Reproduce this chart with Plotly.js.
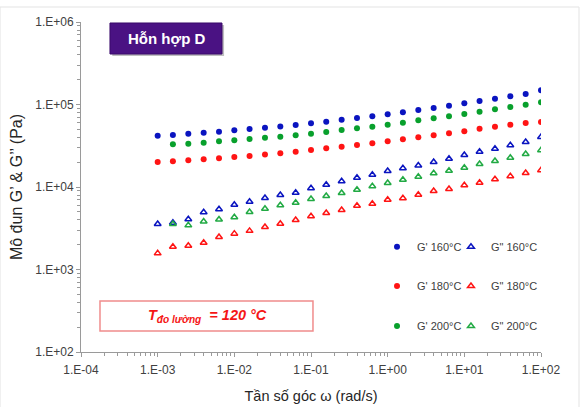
<!DOCTYPE html>
<html><head><meta charset="utf-8">
<script src="https://cdn.plot.ly/plotly-3.0.1.min.js"></script>
<style>html,body{margin:0;padding:0;background:#fff;}#chart{width:580px;height:407px;}</style>
</head><body><div id="chart"></div>
<script>
// angular frequency (rad/s)
const omega = [0.001, 0.00158, 0.00251, 0.00398, 0.00631, 0.01, 0.0158, 0.0251, 0.0398, 0.0631,
               0.1, 0.158, 0.251, 0.398, 0.631, 1, 1.58, 2.51, 3.98, 6.31,
               10, 15.8, 25.1, 39.8, 63.1, 100];
// storage modulus G' (Pa)
const gp160 = [41900, 42700, 44300, 45500, 46800, 48700, 50500, 52400, 54100, 56400,
               59200, 61900, 65500, 68600, 71900, 76000, 80400, 85800, 90700, 96600,
               103500, 110300, 117500, 125600, 134000, 148600];
const gp180 = [20100, 20500, 21100, 21700, 22300, 23100, 23800, 24700, 25600, 26800,
               28100, 29400, 30800, 32300, 33900, 35800, 37900, 40000, 42400, 44800,
               47300, 50900, 53800, 56900, 59700, 61400];
const gp200 = [null, 32950, 33500, 34450, 35800, 36800, 38200, 39600, 40700, 42500,
               44300, 46400, 49100, 51500, 53800, 56900, 60200, 64300, 68000, 71900,
               76700, 81800, 87500, 93300, 99500, 106300];
// loss modulus G'' (Pa)
const gpp160 = [3560, 3680, 4060, 4950, 5370, 6080, 6620, 7360, 8000, 8530,
                9640, 10660, 11720, 12970, 14090, 15620, 16850, 18230, 20100, 22030,
                24430, 26790, 29110, 32000, 35100, 40400];
const gpp180 = [1570, 1890, 1940, 2110, 2480, 2720, 2940, 3270, 3580, 3980,
                4410, 4840, 5260, 5930, 6280, 7010, 7290, 8070, 8950, 9460,
                10490, 11280, 12390, 13490, 14790, 15950];
const gpp200 = [null, 3560, 3430, 3820, 4040, 4290, 4980, 5440, 6020, 6450,
                7160, 7780, 8460, 9270, 10190, 11170, 12250, 13330, 14650, 15770,
                17130, 19000, 20660, 22650, 25120, 27860];

const xTickVals = [1e-4, 1e-3, 1e-2, 1e-1, 1, 10, 100];
const xTickText = ['1.E-04', '1.E-03', '1.E-02', '1.E-01', '1.E+00', '1.E+01', '1.E+02'];
const yTickVals = [1e2, 1e3, 1e4, 1e5, 1e6];
const yTickText = ['1.E+02', '1.E+03', '1.E+04', '1.E+05', '1.E+06'];

const names = ["G' 160°C", 'G" 160°C', "G' 180°C", 'G" 180°C', "G' 200°C", 'G" 200°C'];

const BLUE = '#0a14c0', RED = '#ff1414', GREEN = '#08a02c';
const GREEN_T = '#22aa44';

function circ(y, name, color, leg) {
  return {x: omega, y: y, name: name, type: 'scatter', mode: 'markers', legend: leg,
          marker: {symbol: 'circle', size: 6, color: color}};
}
function tri(y, name, color, leg) {
  return {x: omega, y: y, name: name, type: 'scatter', mode: 'markers', legend: leg,
          marker: {symbol: 'triangle-up-open', size: 6, color: color, line: {width: 1.5, color: color}}};
}

const data = [
  circ(gp160, names[0], BLUE, 'legend'),
  tri(gpp160, names[1], BLUE, 'legend2'),
  circ(gp180, names[2], RED, 'legend3'),
  tri(gpp180, names[3], RED, 'legend4'),
  circ(gp200, names[4], GREEN, 'legend5'),
  tri(gpp200, names[5], GREEN_T, 'legend6')
];

const FONT = 'Liberation Sans, Arial, sans-serif';
function leg(x, y) {
  return {orientation: 'v', xanchor: 'left', yanchor: 'middle', x: x, y: y,
    bgcolor: 'rgba(0,0,0,0)', font: {family: FONT, size: 11, color: '#404040'}};
}
const COL1 = 0.6435, COL2 = 0.8043;
const ROW1 = 0.319, ROW2 = 0.200, ROW3 = 0.079;

const axBase = {type: 'log', showgrid: false, zeroline: false, showline: true,
  linecolor: '#9a9a9a', linewidth: 1, ticks: 'outside', ticklen: 4, tickcolor: '#9a9a9a',
  tickmode: 'array', tickfont: {family: FONT, size: 12, color: '#404040'},
  minor: {ticks: 'outside', ticklen: 3, tickcolor: '#9a9a9a', dtick: 'D1', showgrid: false}};

const layout = {
  width: 580, height: 407,
  margin: {l: 81, r: 39, t: 22, b: 55},
  paper_bgcolor: '#ffffff', plot_bgcolor: '#ffffff',
  showlegend: true,
  xaxis: Object.assign({}, axBase, {range: [-4, 2], tickvals: xTickVals, ticktext: xTickText,
    ticklabelstandoff: 3,
    title: {text: 'Tần số góc ω (rad/s)', font: {family: FONT, size: 14.5, color: '#262626'}, standoff: 14}}),
  yaxis: Object.assign({}, axBase, {range: [2, 6], tickvals: yTickVals, ticktext: yTickText,
    title: {text: 'Mô đun G’ & G’’ (Pa)', font: {family: FONT, size: 16, color: '#262626'}, standoff: 8}}),
  legend: leg(COL1, ROW1), legend2: leg(COL2, ROW1),
  legend3: leg(COL1, ROW2), legend4: leg(COL2, ROW2),
  legend5: leg(COL1, ROW3), legend6: leg(COL2, ROW3),
  shapes: [
    {type: 'rect', xref: 'paper', yref: 'paper', x0: -0.176, x1: 1.0826, y0: -0.2, y1: 1.0455,
     line: {color: '#e3e3e3', width: 1}, fillcolor: 'rgba(0,0,0,0)', layer: 'below'},
    {type: 'rect', xref: 'paper', yref: 'paper', x0: 0.068, x1: 0.311, y0: 0.897, y1: 0.991,
     line: {width: 0}, fillcolor: 'rgba(0,0,0,0.25)'},
    {type: 'rect', xref: 'paper', yref: 'paper', x0: 0.063, x1: 0.3065, y0: 0.903, y1: 0.997,
     line: {color: '#3a0a6a', width: 1}, fillcolor: '#4a1283'},
    {type: 'rect', xref: 'paper', yref: 'paper', x0: 0.0413, x1: 0.5043, y0: 0.0636, y1: 0.1545,
     line: {color: '#f08c8c', width: 1.5}, fillcolor: '#ffffff'}
  ],
  annotations: [
    {xref: 'paper', yref: 'paper', x: 0.185, y: 0.95, xanchor: 'center', yanchor: 'middle',
     showarrow: false, text: '<b>Hỗn hợp D</b>', font: {family: FONT, size: 15, color: '#ffffff'}},
    {xref: 'paper', yref: 'paper', x: 0.274, y: 0.109, xanchor: 'center', yanchor: 'middle',
     showarrow: false, text: '<b><i>T<sub>đo lường</sub>  = 120 °C</i></b>',
     font: {family: FONT, size: 14.5, color: '#f51616'}}
  ]
};

Plotly.newPlot('chart', data, layout, {displayModeBar: false, staticPlot: true});
</script></body></html>
